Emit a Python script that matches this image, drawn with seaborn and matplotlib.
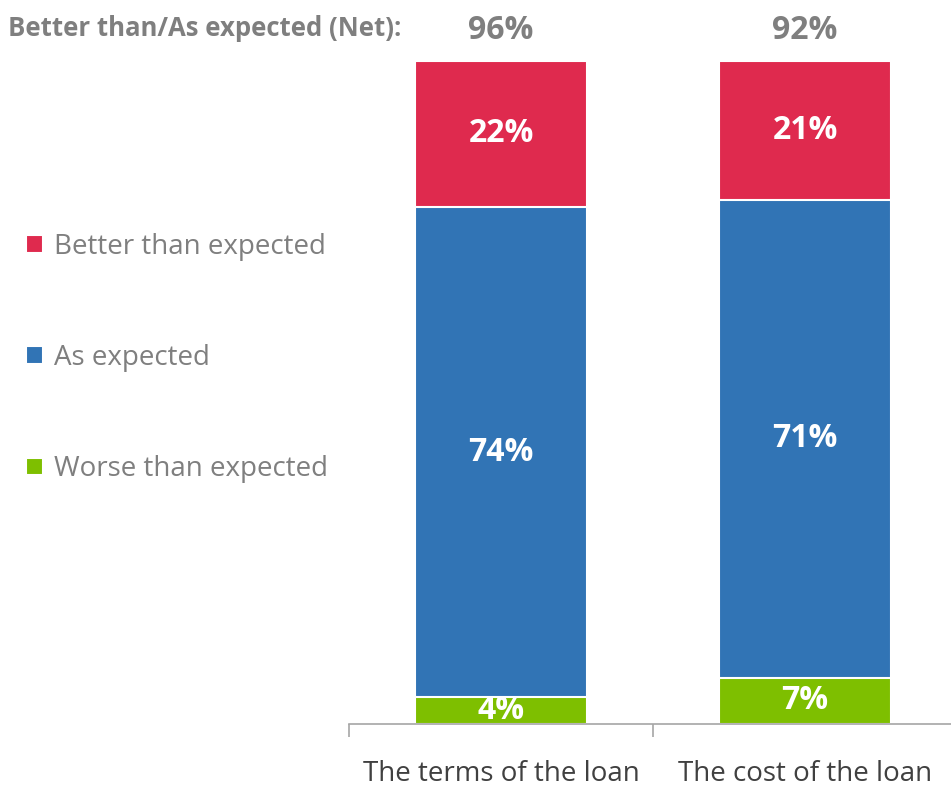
import pandas as pd
import matplotlib.pyplot as plt
import seaborn as sns

sns.set_theme(style="white")
plt.rcParams['font.family'] = ['Open Sans', 'DejaVu Sans']

# dados
categorias = ['The terms of the loan', 'The cost of the loan']
worse = [4, 7]
as_expected = [74, 72]
better = [22, 21]
rotulo_worse = ['4%', '7%']
rotulo_as = ['74%', '71%']
rotulo_better = ['22%', '21%']
net = ['96%', '92%']

cor_better = '#DF2A4E'
cor_as = '#3174B5'
cor_worse = '#7EBF00'
cinza = '#7F7F7F'

df = pd.DataFrame({'categoria': categorias, 'worse': worse,
                   'as_expected': as_expected, 'better': better})
df['topo_as'] = df['worse'] + df['as_expected']
df['topo_better'] = df['topo_as'] + df['better']

fig = plt.figure(figsize=(9.51, 7.87), dpi=100)
ax = fig.add_axes([349 / 951, 63 / 787, 608 / 951, 663 / 787])

# barras empilhadas (desenhadas da maior para a menor)
sns.barplot(data=df, x='categoria', y='topo_better', color=cor_better, width=0.566,
            edgecolor='white', linewidth=1.5, saturation=1, label='Better than expected', ax=ax)
sns.barplot(data=df, x='categoria', y='topo_as', color=cor_as, width=0.566,
            edgecolor='white', linewidth=1.5, saturation=1, label='As expected', ax=ax)
sns.barplot(data=df, x='categoria', y='worse', color=cor_worse, width=0.566,
            edgecolor='white', linewidth=1.5, saturation=1, label='Worse than expected', ax=ax)

ax.set_ylim(0, 100)
ax.set_xlim(-0.5, 1.5)
ax.set_xlabel('')
ax.set_ylabel('')
ax.set_yticks([])
for lado in ['left', 'right', 'top']:
    ax.spines[lado].set_visible(False)
ax.spines['bottom'].set_color('#A6A6A6')
ax.spines['bottom'].set_linewidth(1.2)
ax.set_xticks([-0.5, 0.5, 1.5], minor=True)
ax.tick_params(axis='x', which='minor', bottom=True, length=9, width=1.2, color='#A6A6A6', direction='out')
ax.tick_params(axis='x', which='major', length=0, pad=26, labelsize=20, labelcolor='#404040')

# rótulos dentro das barras
for i in range(len(categorias)):
    ax.text(i, df['worse'][i] / 2, rotulo_worse[i], ha='center', va='center',
            color='white', fontsize=23, weight='bold', clip_on=False)
    ax.text(i, df['worse'][i] + df['as_expected'][i] / 2, rotulo_as[i], ha='center', va='center',
            color='white', fontsize=23, weight='bold')
    ax.text(i, df['topo_as'][i] + df['better'][i] / 2, rotulo_better[i], ha='center', va='center',
            color='white', fontsize=23, weight='bold')
    ax.text(i, 104.6, net[i], ha='center', va='center', color=cinza, fontsize=23, weight='bold')

fig.text(8 / 951, 1 - 29 / 787, 'Better than/As expected (Net):', ha='left', va='center',
         color=cinza, fontsize=18.5, weight='bold')

handles, labels = ax.get_legend_handles_labels()
leg = fig.legend(handles, labels, loc='center left', bbox_to_anchor=(1 / 951, 1 - 358 / 787),
                 frameon=False, fontsize=20, handlelength=0.6, handleheight=0.6,
                 handletextpad=0.4, labelspacing=3.0, labelcolor=cinza)
if ax.get_legend() is not None:
    ax.get_legend().remove()

fig.savefig('out.png', dpi=100)
